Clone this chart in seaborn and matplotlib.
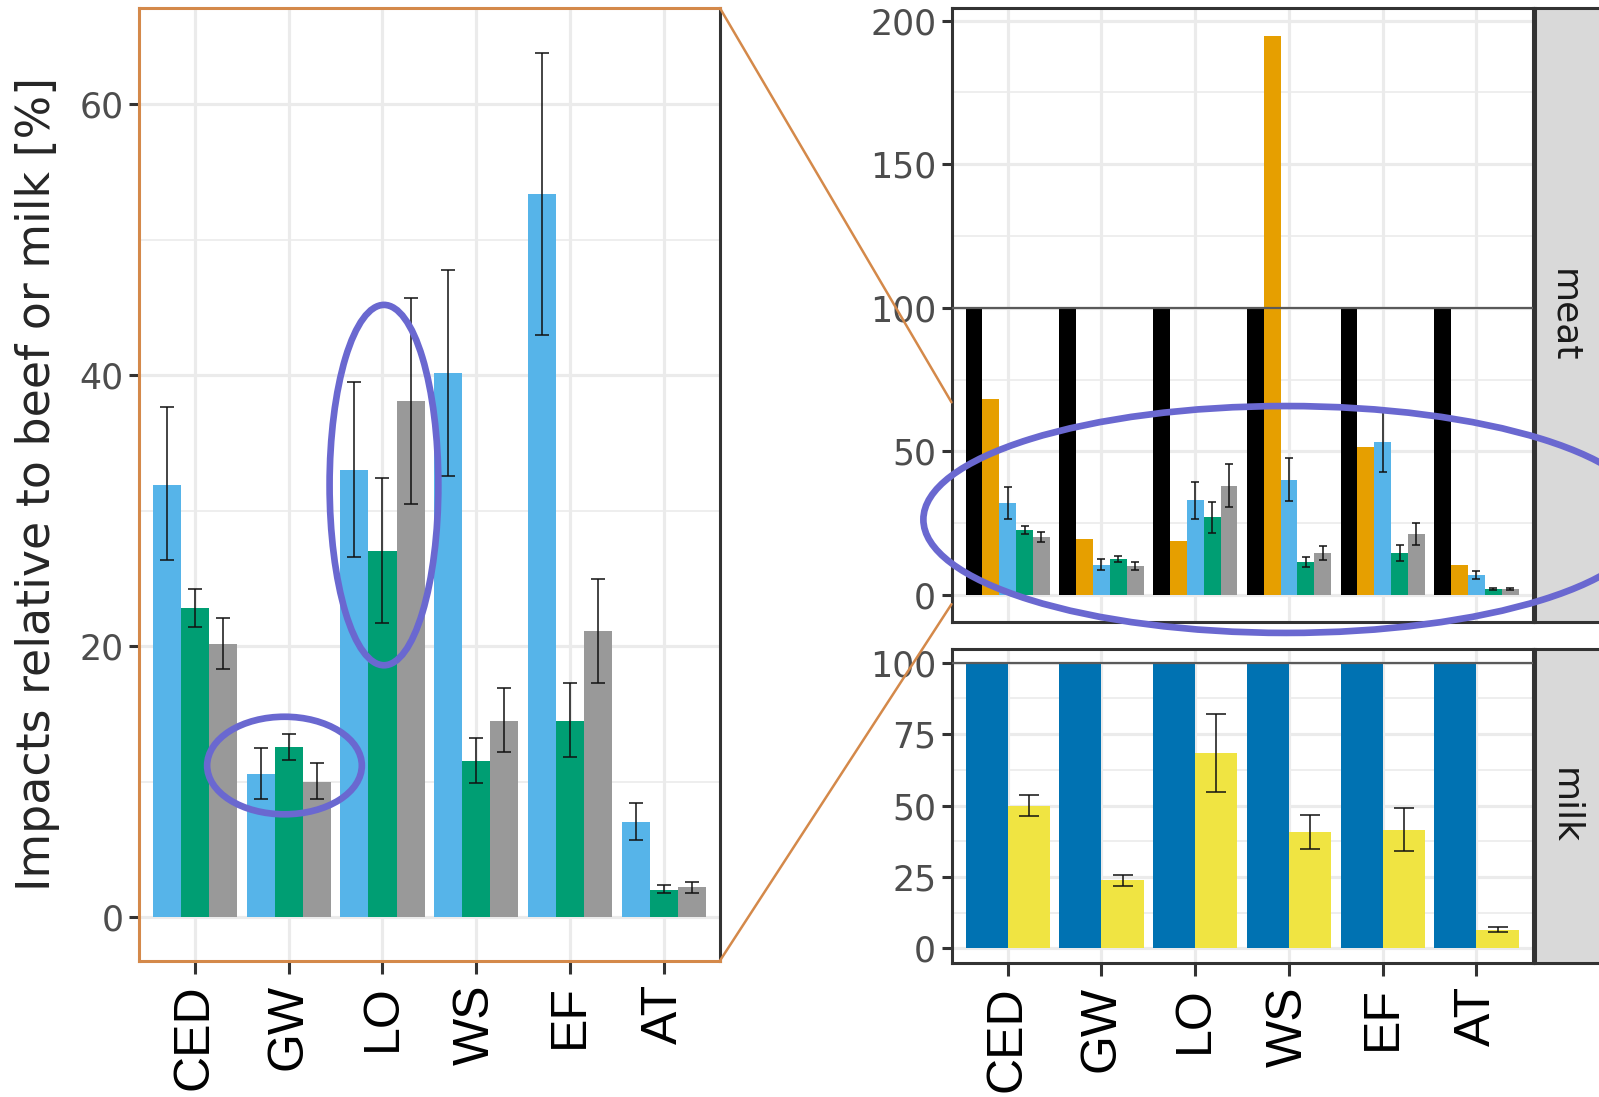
import numpy as np
import pandas as pd
import seaborn as sns
import matplotlib.pyplot as plt
from matplotlib.patches import Ellipse, ConnectionPatch
from matplotlib.ticker import FixedLocator

# categories (impact indicators)
categories = ["CED", "GW", "LO", "WS", "EF", "AT"]

# meat panel (beef = 100 %)
beef = [100, 100, 100, 100, 100, 100]
alt_orange = [68.4, 19.4, 18.9, 194.5, 51.6, 10.4]
alt_sky = [31.9, 10.6, 33.0, 40.2, 53.4, 7.0]
alt_sky_lo = [26.4, 8.7, 26.6, 32.6, 43.0, 5.7]
alt_sky_hi = [37.7, 12.5, 39.5, 47.8, 63.8, 8.4]
alt_green = [22.8, 12.6, 27.0, 11.5, 14.5, 2.0]
alt_green_lo = [21.4, 11.6, 21.7, 9.9, 11.8, 1.8]
alt_green_hi = [24.2, 13.5, 32.4, 13.2, 17.3, 2.4]
alt_grey = [20.2, 10.0, 38.1, 14.5, 21.1, 2.2]
alt_grey_lo = [18.3, 8.7, 30.5, 12.2, 17.3, 1.8]
alt_grey_hi = [22.1, 11.4, 45.7, 16.9, 25.0, 2.6]

# milk panel (milk = 100 %)
milk = [100, 100, 100, 100, 100, 100]
alt_yellow = [49.9, 23.9, 68.5, 40.6, 41.5, 6.5]
alt_yellow_lo = [46.3, 21.7, 54.7, 34.8, 34.2, 5.8]
alt_yellow_hi = [53.6, 25.7, 82.2, 46.5, 49.0, 7.3]

BLACK, ORANGE, SKY, GREEN, GREY = "#000000", "#E69F00", "#56B4E9", "#009E73", "#999999"
BLUE, YELLOW = "#0072B2", "#F0E442"
FRAME = "#333333"
GRID = "#EBEBEB"
ZOOM_COL = "#D4894A"
RING_COL = "#6A68D0"

sns.set_theme(style="white")
plt.rcParams["font.family"] = ["DejaVu Sans"]

W, H = 1599, 1097
fig = plt.figure(figsize=(W / 100, H / 100), dpi=100)
fig.patch.set_facecolor("white")


def px_axes(x0, y0, x1, y1):
    return fig.add_axes([x0 / W, 1 - y1 / H, (x1 - x0) / W, (y1 - y0) / H])


def long_df(names, values):
    return pd.DataFrame({
        "category": np.tile(categories, len(names)),
        "series": np.repeat(names, len(categories)),
        "value": np.concatenate([np.asarray(v, float) for v in values]),
    })


def bar_panel(ax, names, values, colors, errors, ylim, major, minor, capsize,
              ref_line=True, xlabels=True):
    df = long_df(names, values)
    sns.barplot(data=df, x="category", y="value", hue="series", order=categories,
                hue_order=names, palette=colors, width=0.9, saturation=1,
                errorbar=None, legend=False, linewidth=0, ax=ax)
    for cont, name in zip(ax.containers, names):
        if name not in errors:
            continue
        lo, hi = (np.asarray(a, float) for a in errors[name])
        xs = np.array([p.get_x() + p.get_width() / 2 for p in cont.patches])
        ys = np.array([p.get_height() for p in cont.patches])
        ax.errorbar(xs, ys, yerr=[ys - lo, hi - ys], fmt="none", ecolor="#111111",
                    elinewidth=1.1, capsize=capsize, capthick=1.1, zorder=4)
    if ref_line:
        ax.axhline(100, color="#5A5A5A", lw=1.6, zorder=3)
    ax.set_xlim(-0.6, len(categories) - 0.4)
    ax.set_ylim(*ylim)
    ax.set_yticks(major)
    ax.yaxis.set_minor_locator(FixedLocator(minor))
    ax.set_axisbelow(True)
    ax.grid(True, which="major", color=GRID, lw=2.3)
    ax.grid(True, which="minor", axis="y", color=GRID, lw=1.2)
    ax.set_xlabel("")
    ax.set_ylabel("")
    ax.set_facecolor("white")
    for sp in ax.spines.values():
        sp.set_visible(True)
        sp.set_color(FRAME)
        sp.set_linewidth(2.2)
    ax.tick_params(axis="y", which="major", length=7, width=2.2, color=FRAME,
                   labelsize=25, labelcolor="#4D4D4D", pad=4, left=True)
    ax.tick_params(which="minor", length=0)
    if xlabels:
        ax.tick_params(axis="x", length=9, width=2.2, color=FRAME, pad=8, bottom=True)
        ax.set_xticks(range(len(categories)))
        ax.set_xticklabels(categories, rotation=90, va="top", ha="center",
                           fontsize=36, color="black", family="Liberation Sans")
    else:
        ax.tick_params(axis="x", length=0, labelbottom=False)


# left: zoom on the alternatives of the meat panel
ax_left = px_axes(138.7, 8.2, 720, 960.6)
bar_panel(ax_left, ["sky", "green", "grey"], [alt_sky, alt_green, alt_grey],
          [SKY, GREEN, GREY],
          {"sky": (alt_sky_lo, alt_sky_hi), "green": (alt_green_lo, alt_green_hi),
           "grey": (alt_grey_lo, alt_grey_hi)},
          (-3.2, 67.1), [0, 20, 40, 60], [10, 30, 50], capsize=5, ref_line=False)
ax_left.set_ylabel("Impacts relative to beef or milk [%]", fontsize=33, labelpad=14)
for side in ("left", "top", "bottom"):
    ax_left.spines[side].set_color(ZOOM_COL)

# right top: meat
ax_meat = px_axes(951.5, 8.3, 1532.7, 622.3)
bar_panel(ax_meat, ["beef", "orange", "sky", "green", "grey"],
          [beef, alt_orange, alt_sky, alt_green, alt_grey],
          [BLACK, ORANGE, SKY, GREEN, GREY],
          {"sky": (alt_sky_lo, alt_sky_hi), "green": (alt_green_lo, alt_green_hi),
           "grey": (alt_grey_lo, alt_grey_hi)},
          (-9.5, 204.3), [0, 50, 100, 150, 200], [25, 75, 125, 175], capsize=3,
          xlabels=False)

# right bottom: milk
ax_milk = px_axes(951.5, 648.5, 1532.7, 962.5)
bar_panel(ax_milk, ["milk", "yellow"], [milk, alt_yellow], [BLUE, YELLOW],
          {"yellow": (alt_yellow_lo, alt_yellow_hi)},
          (-5, 105), [0, 25, 50, 75, 100], [12.5, 37.5, 62.5, 87.5], capsize=7)

# facet strips
for label, (y0, y1) in [("meat", (8.3, 622.3)), ("milk", (648.5, 962.5))]:
    st = px_axes(1534.5, y0, 1612, y1)
    st.set_facecolor("#D9D9D9")
    st.set_xticks([])
    st.set_yticks([])
    for sp in st.spines.values():
        sp.set_color(FRAME)
        sp.set_linewidth(2.2)
    st.text(0.39, 0.5, label, rotation=-90, ha="center", va="center",
            fontsize=26, color="#1A1A1A", transform=st.transAxes)
    st.set_zorder(1)
ax_meat.set_zorder(5)

# zoom connectors from the left panel to the meat panel
x_start = ax_meat.get_xlim()[0]
for ya, yv in [(1, ax_left.get_ylim()[1]), (0, ax_left.get_ylim()[0])]:
    con = ConnectionPatch(xyA=(1, ya), coordsA=ax_left.transAxes,
                          xyB=(x_start, yv), coordsB=ax_meat.transData,
                          color=ZOOM_COL, lw=1.8, zorder=10)
    fig.add_artist(con)

# highlight rings
for ax, centre, w, h in [(ax_left, (0.955, 11.2), 1.65, 7.2),
                         (ax_left, (2.016, 31.9), 1.16, 26.6),
                         (ax_meat, (2.97, 26.3), 7.74, 79.0)]:
    ax.add_patch(Ellipse(centre, w, h, fill=False, ec=RING_COL, lw=4.8,
                         zorder=8, clip_on=False))

fig.savefig("out.png", dpi=100, facecolor="white")
